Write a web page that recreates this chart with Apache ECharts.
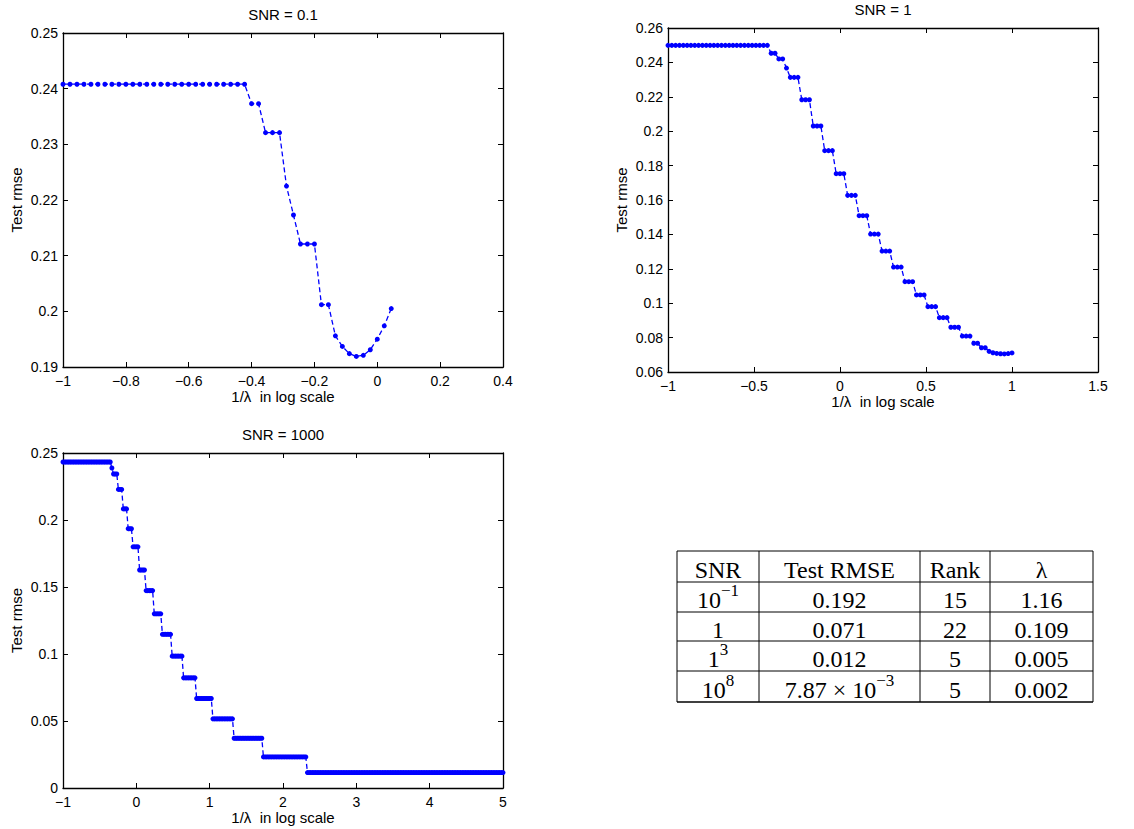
<!DOCTYPE html>
<html>
<head>
<meta charset="utf-8">
<script src="https://cdn.jsdelivr.net/npm/echarts@6/dist/echarts.min.js"></script>
<style>
html,body{margin:0;padding:0;background:#ffffff;}
#chart{width:1134px;height:829px;}
</style>
</head>
<body>
<div id="chart"></div>
<script>
// ---------------- DATA ----------------
// x grid: 1/lambda in log scale, uniform spacing
const xStart = -1;
const xStep = 1 / 45;

// SNR = 0.1  (48 points)
const rmseSnr01 = [
  0.2408,0.2408,0.2408,0.2408,0.2408,0.2408,0.2408,0.2408,0.2408,0.2408,
  0.2408,0.2408,0.2408,0.2408,0.2408,0.2408,0.2408,0.2408,0.2408,0.2408,
  0.2408,0.2408,0.2408,0.2408,0.2408,0.2408,0.2408,
  0.2373,0.2373,0.2321,0.2321,0.2321,0.2225,0.2173,0.2121,0.2121,0.2121,
  0.2012,0.2012,0.1956,0.1937,0.1924,0.1919,0.1921,0.1931,0.1950,0.1974,0.2005
];

// SNR = 1  (91 points)
const rmseSnr1 = [
  0.2499,0.2499,0.2499,0.2499,0.2499,0.2499,0.2499,0.2499,0.2499,0.2499,
  0.2499,0.2499,0.2499,0.2499,0.2499,0.2499,0.2499,0.2499,0.2499,0.2499,
  0.2499,0.2499,0.2499,0.2499,0.2499,0.2499,0.2499,
  0.2453,0.2453,0.2420,0.2420,0.2367,
  0.2313,0.2313,0.2313, 0.2183,0.2183,0.2183, 0.2030,0.2030,0.2030,
  0.1887,0.1887,0.1887, 0.1753,0.1753,0.1753, 0.1627,0.1627,0.1627,
  0.1509,0.1509,0.1509, 0.1402,0.1402,0.1402, 0.1303,0.1303,0.1303,
  0.1210,0.1210,0.1210, 0.1125,0.1125,0.1125, 0.1048,0.1048,0.1048,
  0.0980,0.0980,0.0980, 0.0916,0.0916,0.0916, 0.0860,0.0860,0.0860,
  0.0809,0.0809,0.0809,
  0.0767,0.0767,0.0741,0.0741,
  0.0720,0.0712,0.0708,0.0706,0.0705,0.0707,0.0711
];

// SNR = 1000  (step levels and how many grid points sit on each level; 271 points)
const snr1000Levels = [0.2433,0.2388,0.2343,0.2228,0.2083,0.1935,0.1800,0.1627,0.1473,
                       0.1300,0.1147,0.0984,0.0822,0.0668,0.0516,0.0371,0.0232,0.0115];
const snr1000Counts = [30,1,3,3,3,3,4,4,5,5,6,7,8,10,13,18,27,121];

// tick settings [min, max, interval]
const xTicks01 = [-1, 0.4, 0.2];
const yTicks01 = [0.19, 0.25, 0.01];
const xTicks1 = [-1, 1.5, 0.5];
const yTicks1 = [0.06, 0.26, 0.02];
const xTicks1000 = [-1, 5, 1];
const yTicks1000 = [0, 0.25, 0.05];

const panelTitles = ['SNR = 0.1', 'SNR = 1', 'SNR = 1000'];
const xAxisName = '1/\u03bb\u00a0 in log scale';
const yAxisName = 'Test rmse';

// table
const tableHeader = ['SNR', 'Test RMSE', 'Rank', '\u03bb'];
const tableSnr = [['10', '\u22121'], ['1', ''], ['1', '3'], ['10', '8']];
const tableRmse = [['0.192', ''], ['0.071', ''], ['0.012', ''], ['7.87 \u00d7 10', '\u22123']];
const tableRank = ['15', '22', '5', '5'];
const tableLambda = ['1.16', '0.109', '0.005', '0.002'];

// ---------------- BUILD ----------------
const rmseSnr1000 = snr1000Levels.flatMap((v, k) => Array(snr1000Counts[k]).fill(v));
const toPairs = arr => arr.map((v, i) => [xStart + i * xStep, v]);

const SANS = '"Liberation Sans", Arial, Helvetica, sans-serif';
const SERIF = '"Liberation Serif", "Times New Roman", serif';
const BLUE = '#0000ff';

function fmtTick(v) {
  const r = Math.round(v * 10000) / 10000;
  return String(r).replace('-', '\u2212');
}

const panels = [
  { grid: { left: 63, top: 33, width: 440, height: 334 }, x: xTicks01, y: yTicks01, data: rmseSnr01 },
  { grid: { left: 668, top: 28, width: 430, height: 344 }, x: xTicks1, y: yTicks1, data: rmseSnr1 },
  { grid: { left: 63, top: 453, width: 440, height: 335 }, x: xTicks1000, y: yTicks1000, data: rmseSnr1000 }
];

const grids = [], xAxes = [], yAxes = [], series = [];
const lineCommon = { show: true, onZero: false, lineStyle: { color: '#000', width: 1.3 } };
const tickCommon = { show: true, inside: true, length: 5, lineStyle: { color: '#000', width: 1 } };
const labelCommon = { color: '#000', fontSize: 14, fontFamily: SANS, formatter: fmtTick };
const nameStyle = { color: '#000', fontSize: 15, fontFamily: SANS };

panels.forEach((p, g) => {
  grids.push(Object.assign({ containLabel: false }, p.grid));
  xAxes.push({
    type: 'value', gridIndex: g, position: 'bottom', min: p.x[0], max: p.x[1], interval: p.x[2],
    axisLine: lineCommon, axisTick: tickCommon, splitLine: { show: false },
    axisLabel: Object.assign({ margin: 7 }, labelCommon),
    name: xAxisName, nameLocation: 'middle', nameGap: 20, nameTextStyle: nameStyle
  });
  xAxes.push({
    type: 'value', gridIndex: g, position: 'top', min: p.x[0], max: p.x[1], interval: p.x[2],
    axisLine: lineCommon, axisTick: tickCommon, splitLine: { show: false },
    axisLabel: { show: false },
    name: panelTitles[g], nameLocation: 'middle', nameGap: 11, nameTextStyle: nameStyle
  });
  yAxes.push({
    type: 'value', gridIndex: g, position: 'left', min: p.y[0], max: p.y[1], interval: p.y[2],
    axisLine: lineCommon, axisTick: tickCommon, splitLine: { show: false },
    axisLabel: Object.assign({ margin: 5 }, labelCommon),
    name: yAxisName, nameLocation: 'middle', nameGap: 39, nameRotate: 90, nameTextStyle: nameStyle
  });
  yAxes.push({
    type: 'value', gridIndex: g, position: 'right', min: p.y[0], max: p.y[1], interval: p.y[2],
    axisLine: lineCommon, axisTick: tickCommon, splitLine: { show: false },
    axisLabel: { show: false }
  });
  series.push({
    type: 'line', xAxisIndex: 2 * g, yAxisIndex: 2 * g, data: toPairs(p.data),
    symbol: 'circle', symbolSize: 5, showSymbol: true, showAllSymbol: true,
    lineStyle: { color: BLUE, width: 1.3, type: [5, 3] },
    itemStyle: { color: BLUE, borderWidth: 0 },
    silent: true, animation: false, z: 3
  });
});

// table graphics
const tCols = [677, 759, 920, 990, 1093];
const tRows = [551, 582, 612, 641, 671, 702];
const graphics = [];
tRows.forEach((y, i) => graphics.push({
  type: 'line', shape: { x1: tCols[0], y1: y, x2: tCols[4], y2: y },
  style: { stroke: '#000', lineWidth: i === tRows.length - 1 ? 1.5 : 1 }, silent: true
}));
tCols.forEach(x => graphics.push({
  type: 'line', shape: { x1: x, y1: tRows[0], x2: x, y2: tRows[tRows.length - 1] },
  style: { stroke: '#000', lineWidth: 1 }, silent: true
}));
const richStyles = {
  b: { fontSize: 24, fontFamily: SERIF, fill: '#000', lineHeight: 30, verticalAlign: 'bottom' },
  s: { fontSize: 17, fontFamily: SERIF, fill: '#000', lineHeight: 17, verticalAlign: 'top' }
};
function cellText(col, row, base, sup) {
  const cx = (tCols[col] + tCols[col + 1]) / 2;
  const cy = (tRows[row] + tRows[row + 1]) / 2;
  const txt = sup ? '{b|' + base + '}{s|' + sup + '}' : '{b|' + base + '}';
  graphics.push({
    type: 'text', x: cx, y: cy, silent: true,
    style: {
      text: txt, rich: richStyles, fontSize: 24, fontFamily: SERIF, fill: '#000',
      align: 'center', verticalAlign: 'middle', textAlign: 'center', textVerticalAlign: 'middle'
    }
  });
}
tableHeader.forEach((h, c) => cellText(c, 0, h, ''));
for (let r = 0; r < 4; r++) {
  cellText(0, r + 1, tableSnr[r][0], tableSnr[r][1]);
  cellText(1, r + 1, tableRmse[r][0], tableRmse[r][1]);
  cellText(2, r + 1, tableRank[r], '');
  cellText(3, r + 1, tableLambda[r], '');
}

const chart = echarts.init(document.getElementById('chart'), null, { renderer: 'svg', width: 1134, height: 829 });
chart.setOption({
  backgroundColor: '#ffffff',
  animation: false,
  grid: grids,
  xAxis: xAxes,
  yAxis: yAxes,
  series: series,
  graphic: graphics
});
</script>
</body>
</html>
